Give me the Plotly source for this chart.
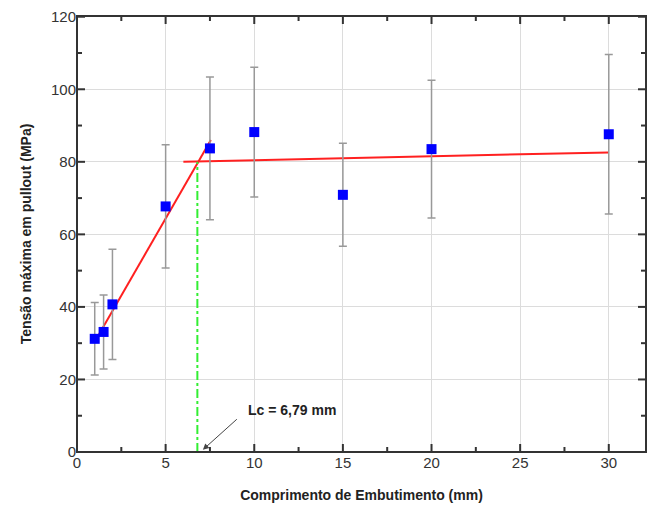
import plotly.graph_objects as go

# Embedment length (mm) and maximum pullout stress (MPa) with standard deviation
embed_len = [1, 1.5, 2, 5, 7.5, 10, 15, 20, 30]
stress = [31.2, 33.1, 40.7, 67.7, 83.7, 88.2, 70.9, 83.5, 87.6]
stress_sd = [10.0, 10.2, 15.2, 17.0, 19.7, 17.9, 14.2, 19.0, 22.0]

# Bilinear fit: rising branch and plateau
fit_rise_x = [1.0, 7.55]
fit_rise_y = [30.4, 86.0]
fit_plateau_x = [6.0, 30.0]
fit_plateau_y = [80.0, 82.6]

# Critical embedment length
lc = 6.79
lc_stress = 80.0

font_family = "Liberation Sans, Arial, sans-serif"
x_range = [0, 32.1]
y_range = [0, 120.2]
x_major = [0, 5, 10, 15, 20, 25, 30]
x_minor = [2.5, 7.5, 12.5, 17.5, 22.5, 27.5]
y_major = [0, 20, 40, 60, 80, 100, 120]
y_minor = [10, 30, 50, 70, 90, 110]
frame_color = "#333333"

W, H = 648, 515
M = dict(l=77, r=2, t=16, b=63)
# data units per pixel, used to size the inward tick marks
x_per_px = (x_range[1] - x_range[0]) / (W - M["l"] - M["r"])
y_per_px = (y_range[1] - y_range[0]) / (H - M["t"] - M["b"])

fig = go.Figure()

fig.add_trace(go.Scatter(
    x=fit_rise_x, y=fit_rise_y, mode="lines",
    line=dict(color="#ff2020", width=2), showlegend=False, hoverinfo="skip"))
fig.add_trace(go.Scatter(
    x=fit_plateau_x, y=fit_plateau_y, mode="lines",
    line=dict(color="#ff2020", width=2), showlegend=False, hoverinfo="skip"))
fig.add_trace(go.Scatter(
    x=[lc, lc], y=[0, lc_stress], mode="lines",
    line=dict(color="#33ee33", width=2, dash="dashdot"),
    showlegend=False, hoverinfo="skip"))

fig.add_trace(go.Scatter(
    x=embed_len, y=stress, mode="markers",
    marker=dict(symbol="square", size=10, color="#0000ff"),
    error_y=dict(type="data", array=stress_sd, visible=True,
                 color="#999999", thickness=1.5, width=4),
    showlegend=False))

# inward tick marks on all four sides, built as one segmented line trace
tx, ty = [], []
for ticks, length in ((x_major, 8), (x_minor, 5)):
    dy = length * y_per_px
    for t in ticks:
        tx += [t, t, None, t, t, None]
        ty += [y_range[0], y_range[0] + dy, None, y_range[1], y_range[1] - dy, None]
for ticks, length in ((y_major, 8), (y_minor, 5)):
    dx = length * x_per_px
    for t in ticks:
        tx += [x_range[0], x_range[0] + dx, None, x_range[1], x_range[1] - dx, None]
        ty += [t, t, None, t, t, None]
fig.add_trace(go.Scatter(
    x=tx, y=ty, mode="lines", line=dict(color=frame_color, width=2),
    connectgaps=False, showlegend=False, hoverinfo="skip", cliponaxis=False))

fig.add_annotation(
    x=12.13, y=11.6, xref="x", yref="y", text="<b>Lc = 6,79 mm</b>",
    showarrow=False, font=dict(family=font_family, size=14, color="#222222"))
fig.add_annotation(
    x=7.1, y=0.6, ax=9.1, ay=9.4, xref="x", yref="y", axref="x", ayref="y",
    text="", showarrow=True, arrowhead=2, arrowsize=1.2, arrowwidth=1,
    arrowcolor="#444444")

# plot frame
fig.add_shape(type="rect", xref="paper", yref="paper", x0=0, y0=0, x1=1, y1=1,
              line=dict(color=frame_color, width=2), layer="above")

axis_style = dict(
    showline=False, ticks="", showgrid=True, gridcolor="#dcdcdc",
    gridwidth=1, zeroline=False,
    tickfont=dict(family=font_family, size=15, color="#333333"),
)
fig.update_xaxes(
    range=x_range, tickvals=x_major,
    title=dict(text="<b>Comprimento de Embutimento (mm)</b>", standoff=20,
               font=dict(family=font_family, size=14, color="#222222")),
    **axis_style)
fig.update_yaxes(
    range=y_range, tickvals=y_major,
    title=dict(text="<b>Tensão máxima em pullout (MPa)</b>", standoff=16,
               font=dict(family=font_family, size=14, color="#222222")),
    **axis_style)

fig.update_layout(
    width=W, height=H, margin=M,
    plot_bgcolor="white", paper_bgcolor="white",
)

fig.write_html("out.html")
